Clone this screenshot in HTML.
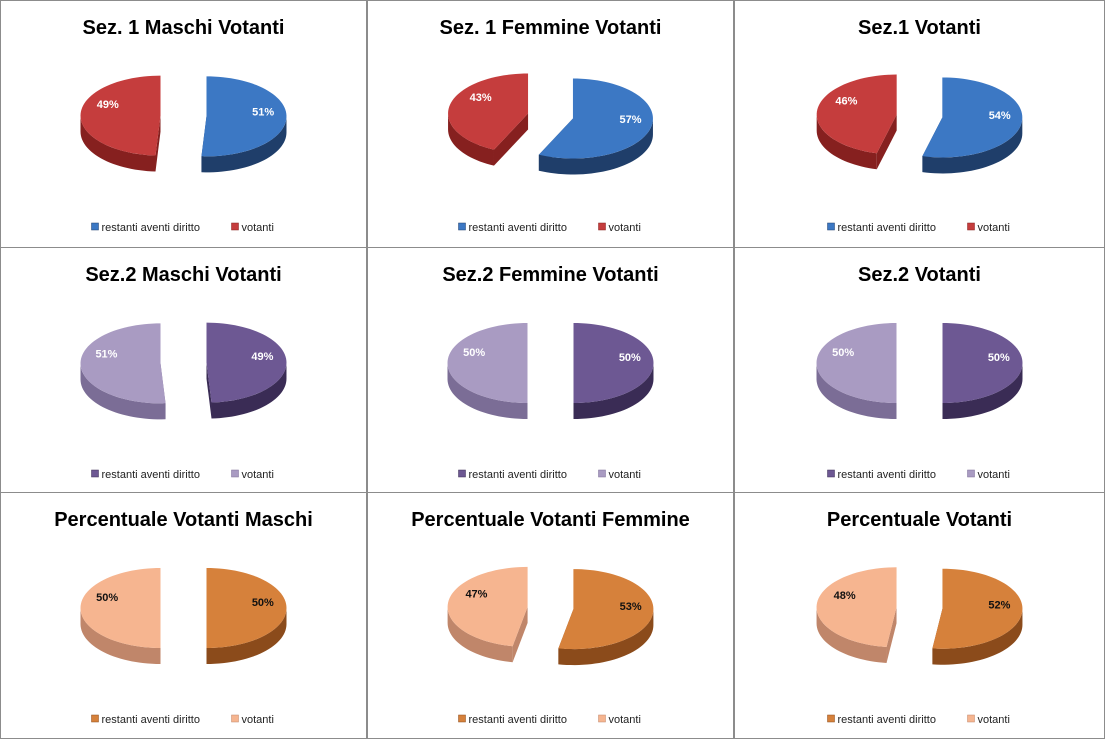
<!DOCTYPE html>
<html><head><meta charset="utf-8">
<style>
html,body{margin:0;padding:0;background:#fff;}
body{width:1106px;height:739px;overflow:hidden;font-family:"Liberation Sans",sans-serif;}
svg{display:block;}
</style></head>
<body>
<svg id="chart" width="1106" height="739" xmlns="http://www.w3.org/2000/svg"></svg>
<script>
const titles = ["Sez. 1 Maschi Votanti","Sez. 1  Femmine Votanti","Sez.1  Votanti","Sez.2  Maschi Votanti","Sez.2 Femmine Votanti","Sez.2  Votanti","Percentuale  Votanti Maschi","Percentuale Votanti Femmine","Percentuale Votanti"];
const seriesNames = ["restanti aventi diritto","votanti"];
const restantiValues = [51,57,54,49,50,50,50,53,52];
const votantiValues = [49,43,46,51,50,50,50,47,48];
const palettes = [
 {a:["#3c78c4","#1f3e6a"],b:["#c53d3d","#86201f"],lbl:"#fff"},
 {a:["#6d5893","#3a2c55"],b:["#a99bc2","#7b6d96"],lbl:"#fff"},
 {a:["#d6813b","#8b4b1b"],b:["#f6b590","#c0866a"],lbl:"#111"}
];
const svg=document.getElementById('chart');
const NS="http://www.w3.org/2000/svg";
function mk(tag,attrs,parent){const e=document.createElementNS(NS,tag);for(const k in attrs)e.setAttribute(k,attrs[k]);parent.appendChild(e);return e;}
const colX=[0,367,734,1105], rowY=[0,247,492,738];
const rx=80, ry=40, depth=16, ex=23;
function pt(cx,cy,deg,dy){const t=deg*Math.PI/180;return [cx+rx*Math.sin(t),cy-ry*Math.cos(t)+(dy||0)];}
function arcPath(cx,cy,a0,a1,dy){let s="";const n=Math.max(2,Math.ceil((a1-a0)/3));for(let i=0;i<=n;i++){const p=pt(cx,cy,a0+(a1-a0)*i/n,dy);s+=(i?"L":"")+p[0].toFixed(2)+","+p[1].toFixed(2);}return s;}
function drawSlice(g,cx0,cy0,a0,a1,col,name){
  const m=(a0+a1)/2*Math.PI/180;
  const cx=cx0+ex*Math.sin(m), cy=cy0-ex*(ry/rx)*Math.cos(m);
  const sg=mk('g',{},g);
  
  
  // radial faces
  [a0,a1].forEach(a=>{const p=pt(cx,cy,a);
    mk('path',{d:`M${cx},${cy}L${p[0]},${p[1]}L${p[0]},${p[1]+depth}L${cx},${cy+depth}Z`,fill:col[1]},sg);});
  // outer wall (front-facing 90..270)
  const s=Math.max(a0,90), e=Math.min(a1,270);
  if(e>s){
    const top=arcPath(cx,cy,s,e,0);
    let back="";const n=Math.max(2,Math.ceil((e-s)/3));
    for(let i=n;i>=0;i--){const p=pt(cx,cy,s+(e-s)*i/n,depth);back+="L"+p[0].toFixed(2)+","+p[1].toFixed(2);}
    mk('path',{d:"M"+top+back+"Z",fill:col[1]},sg);
  }
  mk('path',{d:`M${cx},${cy}L`+arcPath(cx,cy,a0,a1,0)+"Z",fill:col[0]},sg);
  return {cx,cy,m:(a0+a1)/2};
}
for(let i=0;i<9;i++){
  const r=Math.floor(i/3), c=i%3;
  const x0=colX[c], y0=rowY[r], w=colX[c+1]-colX[c];
  const pal=palettes[r];
  const g=mk('g',{},svg);
  
  
  const bx=mk('rect',{x:x0+0.5,y:y0+0.5,width:w-1,height:rowY[r+1]-y0,fill:"none",stroke:"#8c8c8c","stroke-width":1},g);
  
  
  const t=mk('text',{x:x0+w/2,y:y0+34,"text-anchor":"middle","font-size":"20","font-weight":"bold",fill:"#000"},g);
  t.textContent=titles[i];
  
  
  const cx0=x0+w/2, cy0=y0+116;
  const tot=restantiValues[i]+votantiValues[i];
  const split=360*restantiValues[i]/tot;
  const A=drawSlice(g,cx0,cy0,0,split,pal.a,'slice-restanti');
  const B=drawSlice(g,cx0,cy0,split,360,pal.b,'slice-votanti');
  [[A,restantiValues[i],-12],[B,votantiValues[i],22]].forEach(([S,v,sh])=>{
    const p=pt(S.cx,S.cy,S.m+sh);const lx=S.cx+(p[0]-S.cx)*0.72, ly=S.cy+(p[1]-S.cy)*0.72;
    const tl=mk('text',{x:lx,y:ly+4,"text-anchor":"middle","font-size":"11","font-weight":"bold",fill:pal.lbl},g);
    tl.textContent=v+"%";
    
    
  });
  // legend
  const ly=y0+227, lx=cx0-92;
  const l1=mk('g',{},g);
  
  
  mk('rect',{x:lx,y:ly-4,width:7,height:7,fill:pal.a[0],stroke:pal.a[1],"stroke-width":0.5},l1);
  const tx1=mk('text',{x:lx+10,y:ly+4,"font-size":"11",fill:"#222"},l1);tx1.textContent=seriesNames[0];
  const l2=mk('g',{},g);
  
  
  mk('rect',{x:lx+140,y:ly-4,width:7,height:7,fill:pal.b[0],stroke:pal.b[1],"stroke-width":0.5},l2);
  const tx2=mk('text',{x:lx+150,y:ly+4,"font-size":"11",fill:"#222"},l2);tx2.textContent=seriesNames[1];
}
</script>
</body></html>
